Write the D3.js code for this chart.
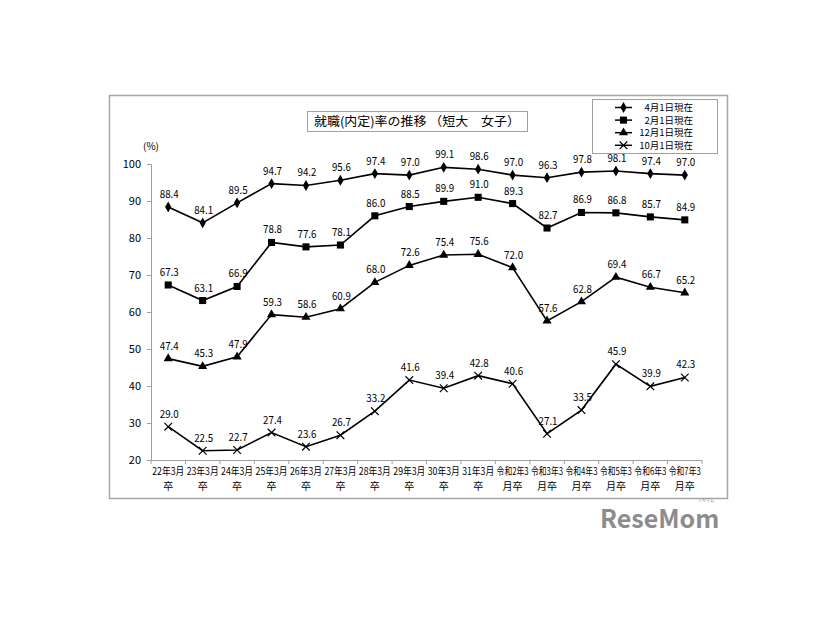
<!DOCTYPE html>
<html>
<head>
<meta charset="utf-8">
<script src="https://cdn.jsdelivr.net/npm/d3@7"></script>
<style>
  html, body { margin: 0; padding: 0; background: #ffffff; }
  svg { display: block; }
  text { font-family: "Noto Sans CJK JP", "Noto Sans", sans-serif; fill: #000; }
</style>
</head>
<body>
<svg id="chart" width="826" height="620"></svg>
<script>
// ---- data ----
const categoriesLine1 = ["22年3月","23年3月","24年3月","25年3月","26年3月","27年3月","28年3月","29年3月","30年3月","31年3月","令和2年3","令和3年3","令和4年3","令和5年3","令和6年3","令和7年3"];
const categoriesLine2 = ["卒","卒","卒","卒","卒","卒","卒","卒","卒","卒","月卒","月卒","月卒","月卒","月卒","月卒"];
const seriesNames = ["4月1日現在","2月1日現在","12月1日現在","10月1日現在"];
const apr1 = [88.4, 84.1, 89.5, 94.7, 94.2, 95.6, 97.4, 97.0, 99.1, 98.6, 97.0, 96.3, 97.8, 98.1, 97.4, 97.0];
const feb1 = [67.3, 63.1, 66.9, 78.8, 77.6, 78.1, 86.0, 88.5, 89.9, 91.0, 89.3, 82.7, 86.9, 86.8, 85.7, 84.9];
const dec1 = [47.4, 45.3, 47.9, 59.3, 58.6, 60.9, 68.0, 72.6, 75.4, 75.6, 72.0, 57.6, 62.8, 69.4, 66.7, 65.2];
const oct1 = [29.0, 22.5, 22.7, 27.4, 23.6, 26.7, 33.2, 41.6, 39.4, 42.8, 40.6, 27.1, 33.5, 45.9, 39.9, 42.3];
const yTicks = [20, 30, 40, 50, 60, 70, 80, 90, 100];
const titleText = "就職(内定)率の推移 （短大　女子）";

const seriesValues = [apr1, feb1, dec1, oct1];
const markerTypes = ["diamond", "square", "triangle", "cross"];

const svg = d3.select("#chart");

// outer frame
svg.append("rect").attr("x", 109.5).attr("y", 95.5).attr("width", 618).attr("height", 403)
  .attr("fill", "#fff").attr("stroke", "#a6a6a6").attr("stroke-width", 1.5);

const keys = categoriesLine1.map((d, i) => i);
const x = d3.scaleBand().domain(keys).range([151, 702]).padding(0);
const y = d3.scaleLinear().domain([20, 100]).range([460, 164]);
const cx = i => x(i) + x.bandwidth() / 2;

// y axis
const yAxis = svg.append("g").attr("transform", "translate(151,0)")
  .call(d3.axisLeft(y).tickValues(yTicks).tickSize(4).tickPadding(6).tickFormat(d3.format("d")));
yAxis.select(".domain").attr("stroke", "#a0a0a0");
yAxis.selectAll(".tick line").attr("stroke", "#a0a0a0");
yAxis.selectAll(".tick text").attr("font-size", 11).attr("font-family", "'Noto Sans CJK JP', sans-serif");

// x axis
const xg = svg.append("g").attr("transform", "translate(0,460)");
xg.append("line").attr("x1", 151).attr("x2", 702).attr("y1", 0.5).attr("y2", 0.5).attr("stroke", "#a0a0a0");
const bounds = keys.map(i => x(i)).concat([x(keys[keys.length - 1]) + x.bandwidth()]);
xg.selectAll("line.tk").data(bounds).enter().append("line").attr("class", "tk")
  .attr("x1", d => d).attr("x2", d => d).attr("y1", 0).attr("y2", 4).attr("stroke", "#a0a0a0");
xg.selectAll("text.l1").data(keys).enter().append("text").attr("class", "l1")
  .attr("x", d => cx(d)).attr("y", 15).attr("text-anchor", "middle").attr("font-size", 10)
  .attr("textLength", d => categoriesLine1[d].length > 4 ? 32 : 30).attr("lengthAdjust", "spacingAndGlyphs")
  .text(d => categoriesLine1[d]);
xg.selectAll("text.l2").data(keys).enter().append("text").attr("class", "l2")
  .attr("x", d => cx(d)).attr("y", 30).attr("text-anchor", "middle").attr("font-size", 10)
  .text(d => categoriesLine2[d]);

// unit
svg.append("text").attr("x", 151).attr("y", 150).attr("text-anchor", "middle").attr("font-size", 10).text("(%)");

// lines + markers
const line = d3.line().x((d, i) => cx(i)).y(d => y(d));
const symFor = {
  diamond: d3.symbol().type(d3.symbolDiamond).size(34),
  square: d3.symbol().type(d3.symbolSquare).size(50),
  triangle: d3.symbol().type(d3.symbolTriangle).size(36),
  cross: d3.symbol().type(d3.symbolX).size(40)
};
seriesValues.forEach((vals, s) => {
  const g = svg.append("g");
  g.append("path").datum(vals).attr("d", line).attr("fill", "none").attr("stroke", "#000").attr("stroke-width", 1.6);
  g.selectAll("path.m").data(vals).enter().append("path").attr("class", "m")
    .attr("transform", (d, i) => `translate(${cx(i)},${y(d)})`)
    .attr("d", symFor[markerTypes[s]]())
    .attr("fill", markerTypes[s] === "cross" ? "none" : "#000")
    .attr("stroke", "#000").attr("stroke-width", markerTypes[s] === "cross" ? 1.2 : 0);
  g.selectAll("text.v").data(vals).enter().append("text").attr("class", "v")
    .attr("x", (d, i) => cx(i) + 1).attr("y", d => y(d) - 9)
    .attr("text-anchor", "middle").attr("font-size", 11)
    .attr("textLength", 19).attr("lengthAdjust", "spacingAndGlyphs")
    .text(d => d.toFixed(1));
});

// title box
svg.append("rect").attr("x", 307.5).attr("y", 111.5).attr("width", 220).attr("height", 20)
  .attr("fill", "#fff").attr("stroke", "#a0a0a0");
svg.append("text").attr("x", 417).attr("y", 126).attr("text-anchor", "middle").attr("font-size", 12.5)
  .attr("textLength", 206).attr("lengthAdjust", "spacingAndGlyphs").text(titleText);

// legend
svg.append("rect").attr("x", 592.5).attr("y", 99.5).attr("width", 125).attr("height", 54)
  .attr("fill", "#fff").attr("stroke", "#a0a0a0");
seriesNames.forEach((name, s) => {
  const ly = 107.5 + s * 12.6;
  svg.append("line").attr("x1", 615).attr("x2", 632).attr("y1", ly).attr("y2", ly).attr("stroke", "#000").attr("stroke-width", 1.5);
  svg.append("path").attr("transform", `translate(623.5,${ly})`).attr("d", symFor[markerTypes[s]]())
    .attr("fill", markerTypes[s] === "cross" ? "none" : "#000")
    .attr("stroke", "#000").attr("stroke-width", markerTypes[s] === "cross" ? 1.2 : 0);
  svg.append("text").attr("x", 693).attr("y", ly + 3.5).attr("text-anchor", "end").attr("font-size", 9.5)
    .text(name);
});

// watermark logo
svg.append("text").attr("x", 600).attr("y", 528).attr("font-size", 25).attr("font-weight", "bold")
  .attr("font-family", "'Liberation Sans', Arial, sans-serif").style("fill", "#8c8c8c").text("ReseMom");
svg.append("text").attr("x", 706).attr("y", 502).attr("font-size", 4).attr("text-anchor", "middle")
  .style("fill", "#8c8c8c").text("リセマム");
</script>
</body>
</html>
